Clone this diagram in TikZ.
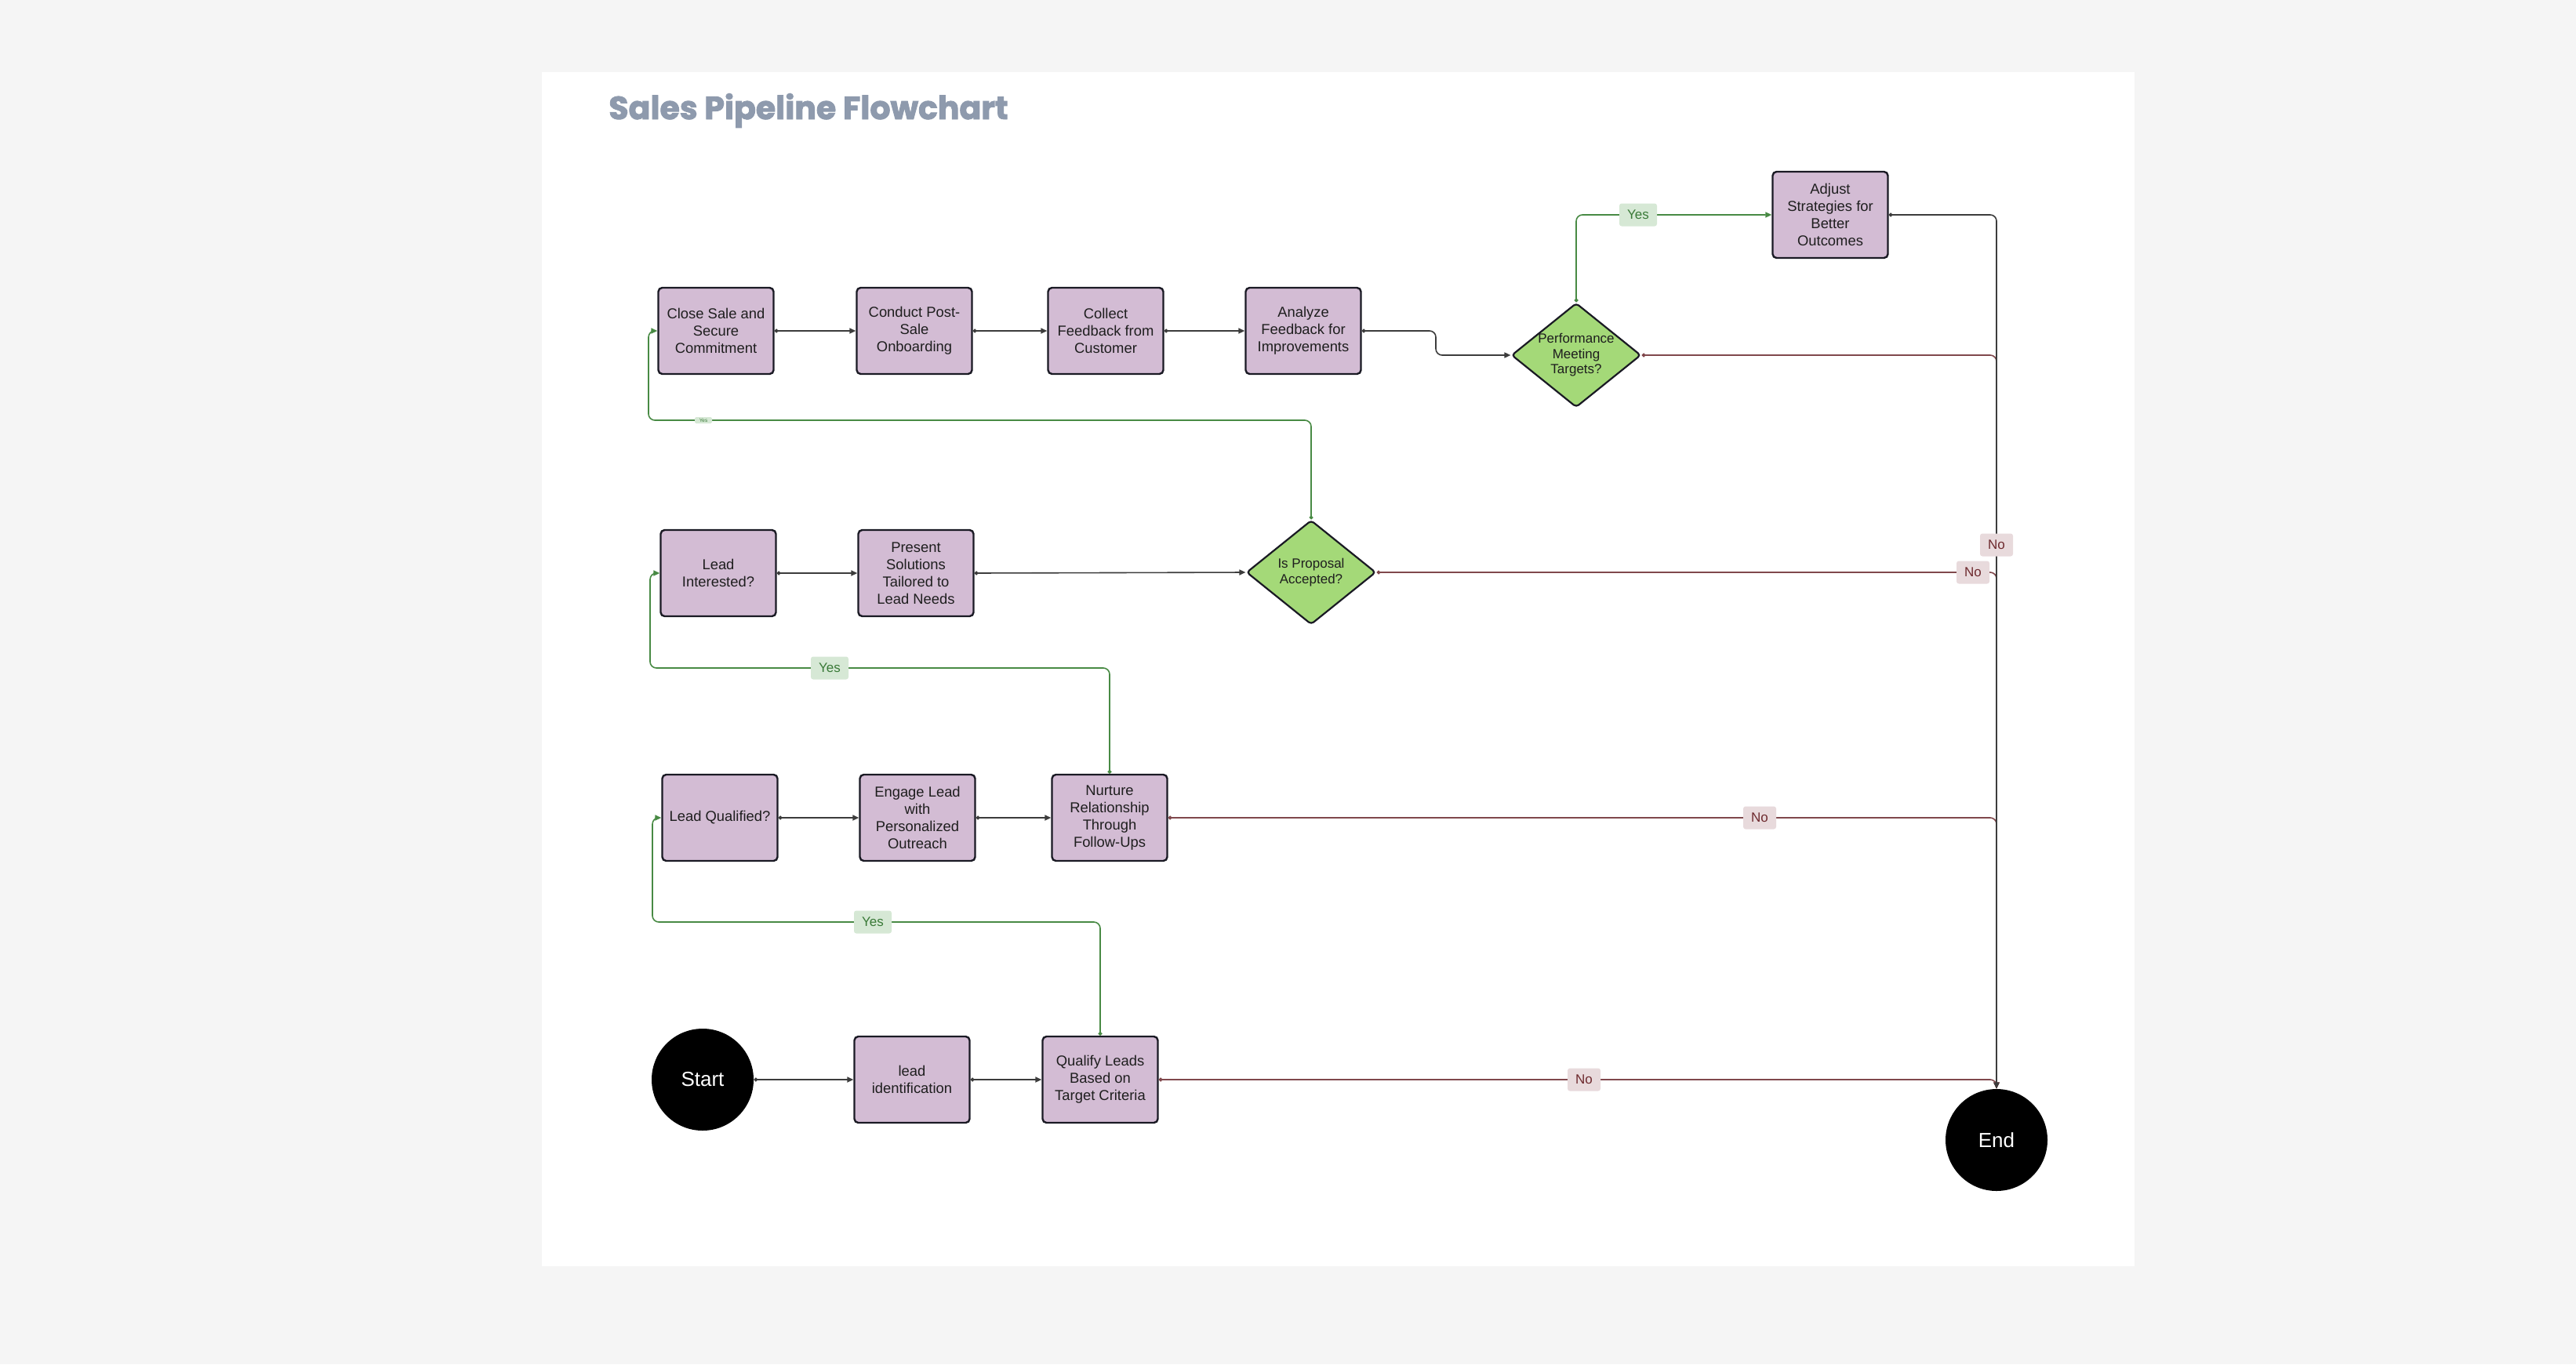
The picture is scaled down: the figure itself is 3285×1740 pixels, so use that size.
\documentclass[tikz,border=0pt]{standalone}
\usepackage{fontspec}
\setmainfont{Liberation Sans}
\newfontfamily\titlefont{Poppins}[BoldFeatures={FakeBold=2.2}]
\usetikzlibrary{shapes.geometric,arrows.meta}
\definecolor{bgc}{RGB}{245,245,245}
\definecolor{boxfill}{RGB}{211,188,212}
\definecolor{boxline}{RGB}{26,26,36}
\definecolor{diafill}{RGB}{164,217,120}
\definecolor{txt}{RGB}{30,30,30}
\definecolor{flowc}{RGB}{60,60,60}
\definecolor{yesc}{RGB}{72,138,68}
\definecolor{noc}{RGB}{128,72,76}
\definecolor{yesbg}{RGB}{214,232,213}
\definecolor{yestx}{RGB}{58,122,56}
\definecolor{nobg}{RGB}{232,218,220}
\definecolor{notx}{RGB}{110,42,46}
\definecolor{titlec}{RGB}{142,154,173}
\begin{document}
\begin{tikzpicture}[x=0.5pt,y=-0.5pt,
  box/.style={draw=boxline,fill=boxfill,line width=1.2pt,rounded corners=2.5pt,minimum width=73.5pt,minimum height=55pt,inner sep=1pt,align=center,text=txt,font=\fontsize{9.2pt}{11pt}\selectfont},
  dia/.style={shape=diamond,draw=boxline,fill=diafill,line width=1.1pt,rounded corners=2pt,minimum width=82.5pt,minimum height=66.5pt,inner sep=0pt},
  dtext/.style={align=center,text=txt,font=\fontsize{8.5pt}{9.8pt}\selectfont},
  term/.style={circle,fill=black,minimum size=65pt,inner sep=0pt,text=white,font=\fontsize{13pt}{15pt}\selectfont},
  base/.style={line width=0.8pt,rounded corners=4pt,{Circle[length=2.4pt]}-{Triangle[length=4pt,width=3.5pt]}},
  flow/.style={base,draw=flowc},
  yesflow/.style={base,draw=yesc},
  noflow/.style={base,draw=noc},
  ylab/.style={fill=yesbg,text=yestx,rounded corners=1.5pt,minimum width=24pt,minimum height=14.5pt,inner sep=1pt,font=\fontsize{8.5pt}{10pt}\selectfont},
  nlab/.style={fill=nobg,text=notx,rounded corners=1.5pt,minimum width=21pt,minimum height=14.5pt,inner sep=1pt,font=\fontsize{8.5pt}{10pt}\selectfont},
  tinylab/.style={fill=yesbg,text=yestx,rounded corners=0.8pt,minimum width=11pt,minimum height=4pt,inner sep=0.4pt,font=\fontsize{3.2pt}{3.5pt}\selectfont}
]
\useasboundingbox (0,0) rectangle (3285,1740);
\fill[bgc] (0,0) rectangle (3285,1740);
\fill[white] (691,92) rectangle (2722,1615);

\node[anchor=base west,inner sep=0pt,text=titlec,font=\titlefont\bfseries\fontsize{20.5pt}{24pt}\selectfont] (title) at (776,152) {Sales Pipeline Flowchart};

% row 1
\node[box] (close) at (913,422) {Close Sale and\\Secure\\Commitment};
\node[box] (conduct) at (1166,422) {Conduct Post-\\Sale\\Onboarding};
\node[box] (collect) at (1410,422) {Collect\\Feedback from\\Customer};
\node[box] (analyze) at (1662,422) {Analyze\\Feedback for\\Improvements};
\node[dia,label={[dtext]center:Performance\\Meeting\\Targets?}] (pm) at (2010,453) {};
\node[box] (adj) at (2334,274) {Adjust\\Strategies for\\Better\\Outcomes};

% row 2
\node[box] (lint) at (916,731) {Lead\\Interested?};
\node[box] (pres) at (1168,731) {Present\\Solutions\\Tailored to\\Lead Needs};
\node[dia,label={[dtext]center:Is Proposal\\Accepted?}] (prop) at (1672,730) {};

% row 3
\node[box] (lq) at (918,1043) {Lead Qualified?};
\node[box] (eng) at (1170,1043) {Engage Lead\\with\\Personalized\\Outreach};
\node[box] (nur) at (1415,1043) {Nurture\\Relationship\\Through\\Follow-Ups};

% row 4
\node[term] (start) at (896,1377) {Start};
\node[box] (li) at (1163,1377) {lead\\identification};
\node[box] (ql) at (1403,1377) {Qualify Leads\\Based on\\Target Criteria};
\node[term] (endn) at (2546,1454) {End};

% connectors
\draw[flow] (start) -- (li);
\draw[flow] (li) -- (ql);
\draw[noflow] (ql.east) -| (endn.north);
\draw[yesflow] (ql.north) |- (832,1176) |- (lq.west);
\draw[flow] (lq) -- (eng);
\draw[flow] (eng) -- (nur);
\draw[noflow] (nur.east) -| (endn.north);
\draw[yesflow] (nur.north) |- (829,852) |- (lint.west);
\draw[flow] (lint) -- (pres);
\draw[flow] (pres.east) -- (prop.west);
\draw[noflow] (prop.east) -| (endn.north);
\draw[yesflow] (prop.north) |- (827,536) |- (close.west);
\draw[flow] (close) -- (conduct);
\draw[flow] (conduct) -- (collect);
\draw[flow] (collect) -- (analyze);
\draw[flow] (analyze.east) -- (1831,422) |- (pm.west);
\draw[yesflow] (pm.north) |- (adj.west);
\draw[noflow] (pm.east) -| (endn.north);
\draw[flow] (adj.east) -| (endn.north);

% labels
\node[nlab] (no1) at (2020,1377) {No};
\node[nlab] (no2) at (2244,1043) {No};
\node[nlab] (no3) at (2516,730) {No};
\node[nlab] (no4) at (2546,695) {No};
\node[ylab] (yes1) at (1113,1176) {Yes};
\node[ylab] (yes2) at (1058,852) {Yes};
\node[ylab] (yes3) at (2089,274) {Yes};
\node[tinylab] (yes4) at (897,536) {Yes};
\end{tikzpicture}
\end{document}
